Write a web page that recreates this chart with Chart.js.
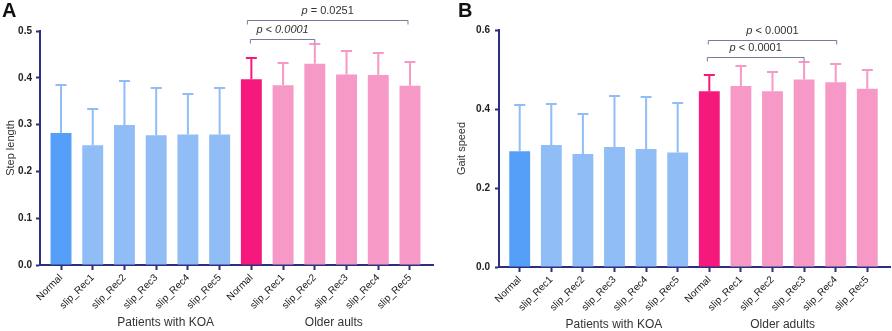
<!DOCTYPE html>
<html>
<head>
<meta charset="utf-8">
<script src="https://cdn.jsdelivr.net/npm/chart.js@4"></script>
<style>
  body { margin: 0; background: #fff; }
  #wrap { position: relative; width: 892px; height: 331px; }
  canvas { position: absolute; top: 0; }
</style>
</head>
<body>
<div id="wrap">
  <canvas id="chartA" width="446" height="331" style="left:0"></canvas>
  <canvas id="chartB" width="446" height="331" style="left:446px"></canvas>
</div>
<script>
// categories (6 per group)
const categories = ['Normal', 'slip_Rec1', 'slip_Rec2', 'slip_Rec3', 'slip_Rec4', 'slip_Rec5',
                    'Normal', 'slip_Rec1', 'slip_Rec2', 'slip_Rec3', 'slip_Rec4', 'slip_Rec5'];

// panel A: step length, mean and SD
const stepLength   = [0.282, 0.256, 0.299, 0.277, 0.279, 0.279, 0.397, 0.384, 0.430, 0.407, 0.406, 0.383];
const stepLengthSD = [0.102, 0.078, 0.094, 0.102, 0.087, 0.100, 0.045, 0.048, 0.043, 0.050, 0.048, 0.051];

// panel B: gait speed, mean and SD
const gaitSpeed   = [0.293, 0.309, 0.286, 0.304, 0.299, 0.290, 0.445, 0.458, 0.445, 0.475, 0.468, 0.451];
const gaitSpeedSD = [0.116, 0.103, 0.102, 0.128, 0.131, 0.124, 0.041, 0.052, 0.048, 0.043, 0.046, 0.047];

const groupsA = ['Patients with KOA', 'Older aults'];
const groupsB = ['Patients with KOA', 'Older adults'];

// significance comparisons: [from index, to index, p text]
const compsA = [[6, 8, 'p < 0.0001'], [6, 11, 'p = 0.0251']];
const compsB = [[6, 9, 'p < 0.0001'], [6, 10, 'p < 0.0001']];

const FONT = '"Liberation Sans", Arial, sans-serif';
Chart.defaults.font.family = FONT;
Chart.defaults.color = '#333';

const AXIS = '#2c2f7f';
const barColors = ['#559ff9', '#91bdf6', '#91bdf6', '#91bdf6', '#91bdf6', '#91bdf6',
                   '#f5187d', '#f799c6', '#f799c6', '#f799c6', '#f799c6', '#f799c6'];
const errColors = ['#91bdf6', '#91bdf6', '#91bdf6', '#91bdf6', '#91bdf6', '#91bdf6',
                   '#f5187d', '#f799c6', '#f799c6', '#f799c6', '#f799c6', '#f799c6'];

// error bars, brackets, group labels, panel letter
const annotate = {
  id: 'annotate',
  afterDatasetsDraw(chart, args, o) {
    const ctx = chart.ctx, xs = chart.scales.x, ys = chart.scales.y;
    const meta = chart.getDatasetMeta(0);
    ctx.save();
    ctx.lineWidth = 2;
    meta.data.forEach((bar, i) => {
      const top = Math.round(ys.getPixelForValue(o.means[i] + o.sd[i]));
      ctx.strokeStyle = errColors[i];
      ctx.beginPath();
      ctx.moveTo(bar.x, bar.y);
      ctx.lineTo(bar.x, top);
      ctx.moveTo(bar.x - 5.5, top);
      ctx.lineTo(bar.x + 5.5, top);
      ctx.stroke();
    });

    // brackets
    ctx.lineWidth = 1;
    ctx.strokeStyle = '#767b9f';
    o.comps.forEach((c, k) => {
      const x1 = xs.getPixelForValue(c[0]) + o.bracketShift[k][0];
      const x2 = xs.getPixelForValue(c[1]) + o.bracketShift[k][1];
      const yl = Math.round(ys.getPixelForValue(o.bracketY[k])) + 0.5;
      ctx.beginPath();
      ctx.moveTo(x1, yl + 4);
      ctx.lineTo(x1, yl);
      ctx.lineTo(x2, yl);
      ctx.lineTo(x2, yl + 4);
      ctx.stroke();
      // text: italic p, rest italic or normal
      const rest = c[2].slice(1);
      const fP = 'italic 11px ' + FONT;
      const fR = (o.italicAll[k] ? 'italic ' : '') + '11px ' + FONT;
      ctx.font = fP; const wp = ctx.measureText('p').width;
      ctx.font = fR; const wr = ctx.measureText(rest).width;
      let tx = (x1 + x2) / 2 - (wp + wr) / 2;
      ctx.fillStyle = '#333';
      ctx.textBaseline = 'middle';
      ctx.textAlign = 'left';
      ctx.font = fP; ctx.fillText('p', tx, yl - 9.5);
      ctx.font = fR; ctx.fillText(rest, tx + wp, yl - 9.5);
    });

    // group labels
    ctx.font = '12px ' + FONT;
    ctx.textAlign = 'center';
    ctx.fillStyle = '#333';
    o.groups.forEach((g, k) => {
      ctx.fillText(g, xs.getPixelForValue(o.groupAt[k]), o.groupY);
    });

    // panel letter
    ctx.font = 'bold 20px ' + FONT;
    ctx.textAlign = 'left';
    ctx.textBaseline = 'top';
    ctx.fillStyle = '#111';
    ctx.fillText(o.letter, o.letterX, 1);
    ctx.restore();
  }
};

function makeChart(id, values, sd, cfg) {
  return new Chart(document.getElementById(id), {
    type: 'bar',
    data: {
      datasets: [{
        data: values.map((v, i) => ({ x: i, y: v })),
        backgroundColor: barColors,
        borderWidth: 0,
        categoryPercentage: 1,
        barPercentage: 0.66
      }]
    },
    options: {
      responsive: false,
      animation: false,
      layout: { padding: cfg.padding },
      plugins: {
        legend: { display: false },
        tooltip: { enabled: false },
        annotate: {
          means: values, sd: sd, comps: cfg.comps, bracketY: cfg.bracketY,
          bracketShift: cfg.bracketShift, italicAll: cfg.italicAll,
          groups: cfg.groups, groupAt: cfg.groupAt, groupY: cfg.groupY,
          letter: cfg.letter, letterX: cfg.letterX
        }
      },
      scales: {
        x: {
          type: 'linear',
          min: cfg.xMin, max: cfg.xMax,
          offset: false,
          afterBuildTicks: s => { s.ticks = categories.map((c, i) => ({ value: i })); },
          afterFit: s => { s.height = cfg.xHeight; },
          grid: { display: true, offset: false, drawOnChartArea: false, tickLength: 5, tickWidth: 2, tickColor: AXIS },
          border: { color: AXIS, width: 2 },
          ticks: {
            autoSkip: false, minRotation: 45, maxRotation: 45, padding: 2,
            font: { size: 10 }, color: '#1a1a1a',
            callback: v => categories[v]
          }
        },
        y: {
          min: 0, max: cfg.yMax,
          afterFit: s => { s.width = cfg.yWidth; },
          grid: { drawOnChartArea: false, tickLength: 4, tickWidth: 2, tickColor: AXIS },
          border: { color: AXIS, width: 2 },
          ticks: {
            stepSize: cfg.yStep, padding: cfg.yPad,
            font: { size: 10, weight: 'bold' }, color: '#222',
            callback: v => v.toFixed(1)
          },
          title: { display: true, text: cfg.yTitle, font: { size: 11 }, color: '#333', padding: { top: cfg.titlePad, bottom: 0 } }
        }
      }
    },
    plugins: [annotate]
  });
}

makeChart('chartA', stepLength, stepLengthSD, {
  padding: { top: 31, right: 13, bottom: 0, left: 0 },
  xMin: -0.662, xMax: 11.725, xHeight: 66, yWidth: 40,
  yMax: 0.5, yStep: 0.1, yPad: 4, titlePad: 4,
  yTitle: 'Step length',
  comps: compsA, bracketY: [0.482, 0.523], bracketShift: [[-1, 0], [-4, -2]],
  italicAll: [true, false],
  groups: groupsA, groupAt: [3.3, 8.6], groupY: 323,
  letter: 'A', letterX: 2
});

makeChart('chartB', gaitSpeed, gaitSpeedSD, {
  padding: { top: 30, right: 2, bottom: 0, left: 0 },
  xMin: -0.655, xMax: 11.718, xHeight: 64, yWidth: 53,
  yMax: 0.6, yStep: 0.2, yPad: 5, titlePad: 9,
  yTitle: 'Gait speed',
  comps: compsB, bracketY: [0.5325, 0.574], bracketShift: [[-2, 0], [-1, 1]],
  italicAll: [false, false],
  groups: groupsB, groupAt: [2.98, 8.32], groupY: 325,
  letter: 'B', letterX: 12
});
</script>
</body>
</html>
